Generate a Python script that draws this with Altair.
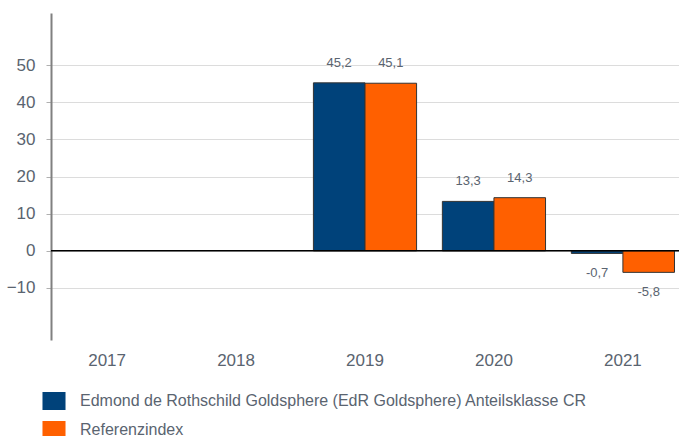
import altair as alt
import pandas as pd

years = ["2017", "2018", "2019", "2020", "2021"]
data_years = ["2019", "2020", "2021"]
fund = [45.2, 13.3, -0.7]
index_vals = [45.1, 14.3, -5.8]
series = ["Edmond de Rothschild Goldsphere (EdR Goldsphere) Anteilsklasse CR", "Referenzindex"]
colors = ["#00427a", "#ff6000"]
y_ticks = [-10, 0, 10, 20, 30, 40, 50]

rows = []
for yr, f, ix in zip(data_years, fund, index_vals):
    for s, v in zip(series, [f, ix]):
        rows.append({"year": yr, "series": s, "value": v,
                     "label": f"{v:.1f}".replace(".", ","),
                     "pos": v >= 0})
df = pd.DataFrame(rows)

text_color = "#5a6470"

x_enc = alt.X("year:N", scale=alt.Scale(domain=years, paddingInner=0.2, paddingOuter=0.035),
              axis=alt.Axis(title=None, labelAngle=0, domain=False, ticks=False,
                            labelFontSize=17, labelPadding=12, labelColor=text_color, grid=False))
y_scale = alt.Scale(domain=[-24, 64], nice=False, zero=False)
y_enc = alt.Y("value:Q", scale=y_scale,
              axis=alt.Axis(title=None, values=y_ticks, labelFontSize=17, labelColor=text_color,
                            labelPadding=11, tickSize=5, tickColor="#b0b0b0",
                            domainColor="#808080", domainWidth=2,
                            grid=True, gridColor="#dcdcdc", gridWidth=1))
xoff = alt.XOffset("series:N", scale=alt.Scale(domain=series, paddingInner=0, paddingOuter=0))

base = alt.Chart(df)

bars = base.mark_bar(stroke="#333333", strokeWidth=1).encode(
    x=x_enc,
    xOffset=xoff,
    y=y_enc,
    color=alt.Color("series:N", scale=alt.Scale(domain=series, range=colors),
                    legend=alt.Legend(title=None, orient="none", legendX=-6, legendY=379,
                                      direction="vertical",
                                      symbolType="M-1.28,-1H1.28V1H-1.28Z",
                                      symbolSize=324, symbolStrokeWidth=0,
                                      labelFontSize=16, labelColor=text_color,
                                      labelOffset=17, rowPadding=11, padding=0,
                                      labelLimit=700)),
)

zero = alt.Chart(pd.DataFrame({"v": [0]})).mark_rule(color="black", strokeWidth=1.5).encode(
    y=alt.Y("v:Q", scale=y_scale))

lab_pos = base.transform_filter("datum.pos").mark_text(
    dy=-20, fontSize=13, color=text_color, baseline="middle").encode(
    x=alt.X("year:N"), xOffset=alt.XOffset("series:N"), y=alt.Y("value:Q"), text="label:N")
lab_neg = base.transform_filter("!datum.pos").mark_text(
    dy=20, fontSize=13, color=text_color, baseline="middle").encode(
    x=alt.X("year:N"), xOffset=alt.XOffset("series:N"), y=alt.Y("value:Q"), text="label:N")

chart = alt.layer(bars, zero, lab_pos, lab_neg).properties(
    width=628, height=327,
    padding={"left": 51, "top": 13, "right": 0, "bottom": 96},
    autosize=alt.AutoSizeParams(type="none"),
).configure(font="Liberation Sans").configure_view(stroke=None)

chart.save("out.html", embed_options={"renderer": "svg", "actions": False})
